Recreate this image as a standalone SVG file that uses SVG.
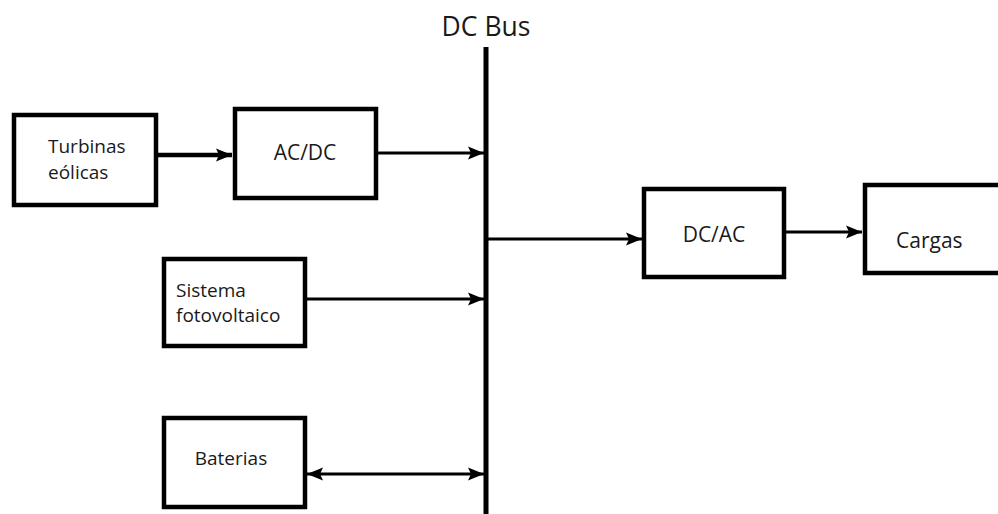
<svg xmlns="http://www.w3.org/2000/svg" width="998" height="514" viewBox="0 0 998 514">
<style>
.box{fill:#fff;stroke:#000;stroke-width:4.5}
.t{font-family:"Open Sans","Noto Sans",sans-serif;fill:#1a1a1a}
.s{font-size:19px}
.m{font-size:21px}
.c{stroke:#000;fill:none}
</style>
<defs>
<marker id="ah" markerUnits="userSpaceOnUse" markerWidth="18" markerHeight="14" refX="16" refY="6.5" orient="auto-start-reverse" viewBox="0 0 18 13">
<path d="M0,0 L16,6.5 L0,13 L3,6.5 Z" fill="#000"/>
</marker>
</defs>
<rect width="998" height="514" fill="#fff"/>
<text class="t" x="486" y="36" font-size="26.5" text-anchor="middle">DC Bus</text>
<g id="connectors">
<line class="c" x1="486" y1="47" x2="486" y2="514" stroke-width="5"/>
<line class="c" x1="156" y1="155" x2="232" y2="155" stroke-width="4.5" marker-end="url(#ah)"/>
<line class="c" x1="377" y1="153" x2="484" y2="153" stroke-width="3" marker-end="url(#ah)"/>
<line class="c" x1="306" y1="299" x2="484" y2="299" stroke-width="3" marker-end="url(#ah)"/>
<line class="c" x1="307" y1="474" x2="484" y2="474" stroke-width="3" marker-start="url(#ah)" marker-end="url(#ah)"/>
<line class="c" x1="484" y1="239" x2="642" y2="239" stroke-width="3" marker-end="url(#ah)"/>
<line class="c" x1="785" y1="232" x2="862" y2="232" stroke-width="3" marker-end="url(#ah)"/>
</g>
<g id="turbinas">
<rect class="box" x="14" y="115" width="142" height="90"/>
<text class="t s" x="48" y="153">Turbinas</text>
<text class="t s" x="48" y="179">eólicas</text>
</g>
<g id="acdc">
<rect class="box" x="235" y="109" width="141" height="89"/>
<text class="t m" x="305" y="160" text-anchor="middle">AC/DC</text>
</g>
<g id="sistema">
<rect class="box" x="164" y="259" width="141" height="87"/>
<text class="t s" x="176" y="297">Sistema</text>
<text class="t s" x="176" y="322">fotovoltaico</text>
</g>
<g id="baterias">
<rect class="box" x="164" y="418" width="141" height="89"/>
<text class="t s" x="231" y="465" text-anchor="middle">Baterias</text>
</g>
<g id="dcac">
<rect class="box" x="644" y="189" width="140" height="88"/>
<text class="t m" x="714" y="242" text-anchor="middle">DC/AC</text>
</g>
<g id="cargas">
<rect class="box" x="865" y="185" width="140" height="88"/>
<text class="t m" x="896" y="248">Cargas</text>
</g>
</svg>
